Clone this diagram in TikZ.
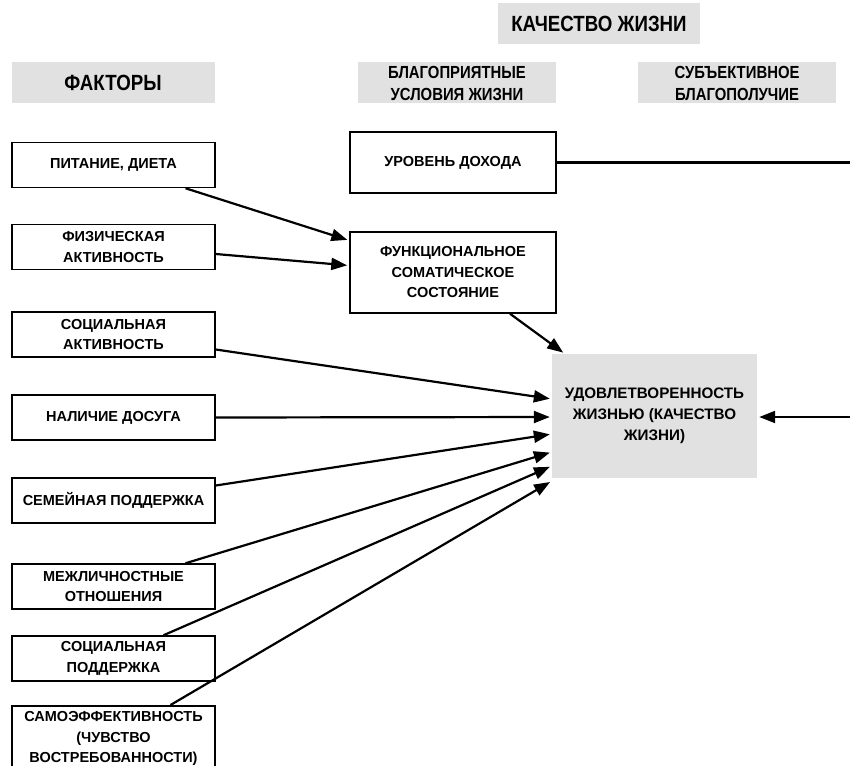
\documentclass[tikz,border=0pt]{standalone}
\usepackage{fontspec}
\setmainfont{Liberation Sans}
\newfontfamily\narrowfont[FakeStretch=0.85]{Liberation Sans}
\usetikzlibrary{arrows.meta}

\definecolor{boxgray}{HTML}{E1E1E1}

\tikzset{
  head/.style={fill=boxgray, align=center, inner sep=0pt},
  factor/.style={draw, line width=1.5pt, minimum width=203pt, minimum height=45pt,
                 align=center, inner sep=2pt, font=\bfseries\fontsize{14.5}{20.5}\selectfont},
  link/.style={line width=2.2pt, -{Triangle[length=16pt,width=12pt]}, shorten >=2pt},
}

\begin{document}
\begin{tikzpicture}[x=1pt, y=-1pt]
      %\draw [dotted] (0,0) grid (850,765);
      \useasboundingbox (0,0) rectangle (850,765);
      % headers
      \node [head, minimum width=202pt, minimum height=41pt, font=\narrowfont\bfseries\fontsize{22}{24}\selectfont]
                          (kach) at (599, 24) {КАЧЕСТВО ЖИЗНИ};
      \node [head, minimum width=203pt, minimum height=41pt, font=\narrowfont\bfseries\fontsize{22}{24}\selectfont]
                          (fakt) at (113, 83) {ФАКТОРЫ};
      \node [head, minimum width=198pt, minimum height=41pt, font=\narrowfont\bfseries\fontsize{17.5}{22}\selectfont]
                          (blag) at (457, 83) {БЛАГОПРИЯТНЫЕ\\УСЛОВИЯ ЖИЗНИ};
      \node [head, minimum width=198pt, minimum height=41pt, font=\narrowfont\bfseries\fontsize{17.5}{22}\selectfont]
                          (subj) at (737, 83) {СУБЪЕКТИВНОЕ\\БЛАГОПОЛУЧИЕ};
      % factors
      \node [factor] (pit)  at (113.5, 165)   {ПИТАНИЕ, ДИЕТА};
      \node [factor] (fiz)  at (113.5, 247)   {ФИЗИЧЕСКАЯ\\АКТИВНОСТЬ};
      \node [factor] (soca) at (113.5, 334.5) {СОЦИАЛЬНАЯ\\АКТИВНОСТЬ};
      \node [factor] (nal)  at (113.5, 417.5) {НАЛИЧИЕ ДОСУГА};
      \node [factor] (sem)  at (113.5, 500.5) {СЕМЕЙНАЯ ПОДДЕРЖКА};
      \node [factor] (mez)  at (113.5, 586.5) {МЕЖЛИЧНОСТНЫЕ\\ОТНОШЕНИЯ};
      \node [factor] (socp) at (113.5, 658.5) {СОЦИАЛЬНАЯ\\ПОДДЕРЖКА};
      \node [factor, minimum height=66pt, anchor=north]
                     (samo) at (113.5, 705)   {САМОЭФФЕКТИВНОСТЬ\\(ЧУВСТВО\\ВОСТРЕБОВАННОСТИ)};
      % conditions
      \node [factor, minimum width=206pt, minimum height=61pt] (ur)   at (453, 162.5) {УРОВЕНЬ ДОХОДА};
      \node [factor, minimum width=206pt, minimum height=81pt] (func) at (453, 272.5)
                     {ФУНКЦИОНАЛЬНОЕ\\СОМАТИЧЕСКОЕ\\СОСТОЯНИЕ};
      \node [head, minimum width=205pt, minimum height=124pt, font=\bfseries\fontsize{15.2}{21}\selectfont]
                     (udov) at (654.5, 416) {УДОВЛЕТВОРЕННОСТЬ\\ЖИЗНЬЮ (КАЧЕСТВО\\ЖИЗНИ)};
      \coordinate (rt1) at (850, 162.5);
      \coordinate (rt2) at (850, 417);
      % links
      \draw [link] ([xshift=72pt]pit.south)  -- ([yshift=32pt]func.west);
      \draw [link] ([yshift=-7pt]fiz.east)   -- ([yshift=7pt]func.west);
      \draw [link] ([xshift=57pt]func.south) -- ([xshift=13pt]udov.north west);
      \draw [link] ([yshift=-15pt]soca.east) -- ([yshift=17pt]udov.west);
      \draw [link] (nal.east)                -- ([yshift=-1pt]udov.west);
      \draw [link] ([yshift=15pt]sem.east)   -- ([yshift=-18pt]udov.west);
      \draw [link] ([xshift=72pt]mez.north)  -- ([yshift=-36pt]udov.west);
      \draw [link] ([xshift=50pt]socp.north) -- ([yshift=-50pt]udov.west);
      \draw [link] ([xshift=57pt]samo.north) -- ([yshift=-65pt]udov.west);
      \draw [line width=2.2pt] (ur.east) -- (rt1);
      \draw [link] (rt2) -- (rt2 -| udov.east);
\end{tikzpicture}
\end{document}
